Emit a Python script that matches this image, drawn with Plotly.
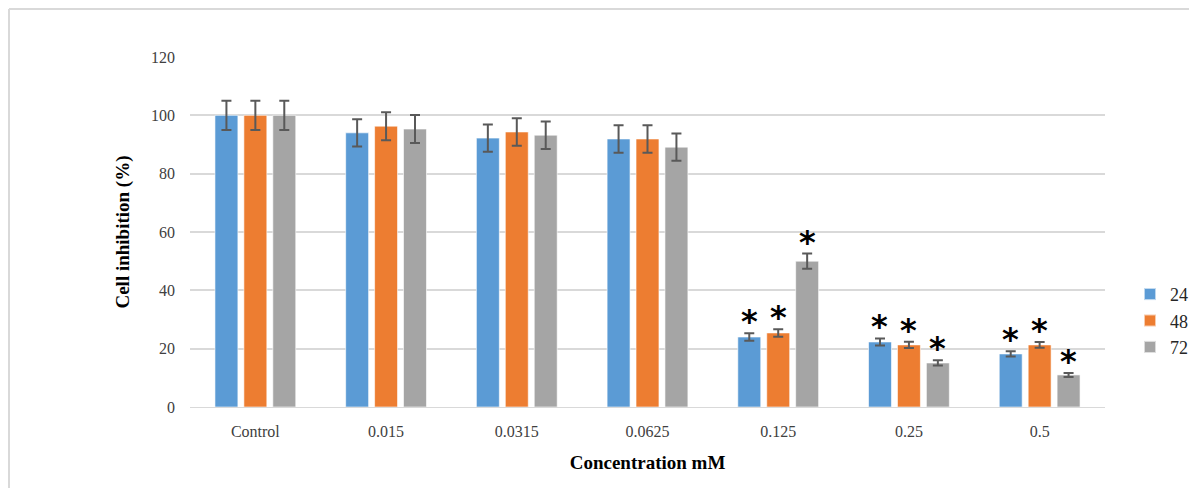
import plotly.graph_objects as go

categories = ["Control", "0.015", "0.0315", "0.0625", "0.125", "0.25", "0.5"]
series_names = ["24", "48", "72"]
values_24 = [100, 94, 92.2, 91.9, 24.0, 22.3, 18.2]
values_48 = [100, 96.3, 94.3, 91.9, 25.4, 21.3, 21.3]
values_72 = [100, 95.3, 93.2, 89.1, 50.0, 15.1, 11.0]
err_24 = [5.0, 4.7, 4.7, 4.7, 1.3, 1.2, 0.9]
err_48 = [5.0, 4.8, 4.7, 4.7, 1.3, 1.1, 1.0]
err_72 = [5.0, 4.8, 4.7, 4.7, 2.6, 0.9, 0.7]
sig_24 = [False, False, False, False, True, True, True]
sig_48 = [False, False, False, False, True, True, True]
sig_72 = [False, False, False, False, True, True, True]
y_ticks = [0, 20, 40, 60, 80, 100, 120]

colors = ["#5B9BD5", "#ED7D31", "#A5A5A5"]
FONT = "Liberation Serif"

W, H = 1197, 488
ML, MR, MT, MB = 182, 100, 49, 89
PW, PH = W - ML - MR, H - MT - MB

fig = go.Figure()
all_vals = [values_24, values_48, values_72]
all_errs = [err_24, err_48, err_72]
all_sig = [sig_24, sig_48, sig_72]
for name, vals, errs, col in zip(series_names, all_vals, all_errs, colors):
    fig.add_trace(go.Bar(
        x=categories, y=vals, name=name,
        marker=dict(color=col, line=dict(color="rgba(255,255,255,0.6)", width=1)),
        error_y=dict(type="data", array=errs, visible=True, color="#595959",
                     thickness=2, width=5),
    ))

# significance asterisks (x given as category index)
slot = PW / len(categories) * (1 - 0.336) / 3
for si, (vals, errs, sigs) in enumerate(zip(all_vals, all_errs, all_sig)):
    for ci, cat in enumerate(categories):
        if sigs[ci]:
            fig.add_annotation(
                x=ci, y=vals[ci] + errs[ci], xref="x", yref="y",
                text="<b>*</b>", showarrow=False, yanchor="bottom",
                xshift=(si - 1) * slot, yshift=-9,
                font=dict(family="DejaVu Sans", size=32, color="black"),
            )

# outer frame lines
x0 = (1 - ML) / PW
y_top = (H - MB - 1) / PH
fig.add_shape(type="line", xref="paper", yref="paper",
              x0=x0, x1=(W - ML) / PW, y0=y_top, y1=y_top,
              line=dict(color="#D9D9D9", width=2))
fig.add_shape(type="line", xref="paper", yref="paper",
              x0=x0, x1=x0, y0=y_top, y1=-MB / PH,
              line=dict(color="#D9D9D9", width=2))

fig.update_layout(
    width=W, height=H,
    margin=dict(l=ML, r=MR, t=MT, b=MB, autoexpand=False),
    paper_bgcolor="white", plot_bgcolor="white",
    barmode="group", bargap=0.336, bargroupgap=0.207,
    font=dict(family=FONT, color="#595959", size=16),
    showlegend=True,
    legend=dict(x=(1122 - ML) / PW, y=0.246, xanchor="left", yanchor="middle",
                font=dict(family=FONT, size=18, color="#262626"),
                tracegroupgap=13, itemsizing="constant", itemwidth=30),
    xaxis=dict(
        title=dict(text="<b>Concentration mM</b>",
                   font=dict(family=FONT, size=19, color="black"), standoff=16),
        showgrid=False, showline=True, linecolor="#D9D9D9", linewidth=1,
        ticks="", ticklabelstandoff=10,
        tickfont=dict(family=FONT, size=16, color="#404040"),
    ),
    yaxis=dict(
        title=dict(text="<b>Cell inhibition (%)</b>",
                   font=dict(family=FONT, size=19, color="black"), standoff=16),
        range=[0, 120], tickvals=y_ticks, showgrid=True,
        gridcolor="#D9D9D9", gridwidth=1.5, zeroline=False, showline=False,
        ticks="", ticklabelstandoff=14,
        tickfont=dict(family=FONT, size=16, color="#404040"),
    ),
)

fig.write_html("out.html")
